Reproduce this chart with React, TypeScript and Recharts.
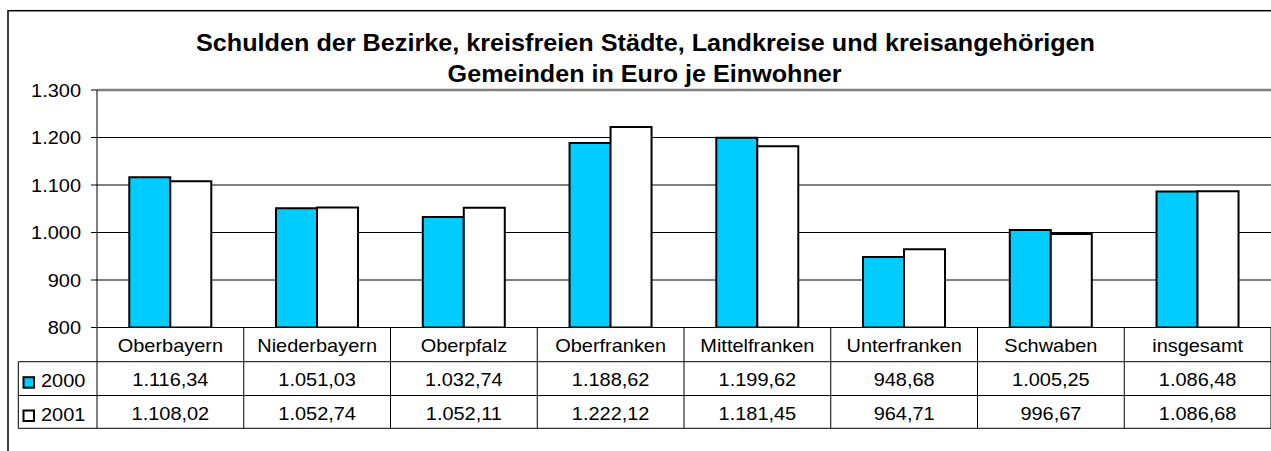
import React from 'react';
import { BarChart, Bar, XAxis, YAxis, CartesianGrid, ReferenceLine } from 'recharts';

const categories = ['Oberbayern', 'Niederbayern', 'Oberpfalz', 'Oberfranken', 'Mittelfranken', 'Unterfranken', 'Schwaben', 'insgesamt'];
const values2000 = [1116.34, 1051.03, 1032.74, 1188.62, 1199.62, 948.68, 1005.25, 1086.48];
const values2001 = [1108.02, 1052.74, 1052.11, 1222.12, 1181.45, 964.71, 996.67, 1086.68];
const seriesNames = ['2000', '2001'];
const yTicks = [800, 900, 1000, 1100, 1200, 1300];
const titleLines = ['Schulden der Bezirke, kreisfreien Städte, Landkreise und kreisangehörigen', 'Gemeinden in Euro je Einwohner'];

const data = categories.map((name, i) => ({ name, v2000: values2000[i], v2001: values2001[i] }));

const W = 1271;
const H = 451;
const PLOT_LEFT = 97;
const PLOT_TOP = 90;
const PLOT_BOTTOM = 327.5;
const PLOT_RIGHT = 1271;
const XAXIS_H = 30;
const ROW1 = 361.7;
const ROW2 = 395.5;
const ROW3 = 428.3;
const TABLE_LEFT = 18.3;
const FONT = '"Liberation Sans", Arial, Helvetica, sans-serif';
const CYAN = '#00CCFF';
const SX = 1.05;
const FS = 19;

function de(v: number, dec: number): string {
  const fixed = v.toFixed(dec);
  const [intPart, frac] = fixed.split('.');
  const intS = intPart.replace(/\B(?=(\d{3})+(?!\d))/g, '.');
  return frac ? intS + ',' + frac : intS;
}

function SText({ x, y, anchor, children }: { x: number; y: number; anchor: string; children: any }) {
  return (
    <text
      transform={`translate(${x},${y}) scale(${SX},1)`}
      textAnchor={anchor}
      fontFamily={FONT}
      fontSize={FS}
      fill="#000"
    >
      {children}
    </text>
  );
}

function YTick(props: any) {
  const { x, y, payload } = props;
  return <SText x={x} y={y + 6.7} anchor="end">{de(payload.value, 0)}</SText>;
}

function XTick(props: any) {
  const { x, payload } = props;
  const i = categories.indexOf(payload.value);
  return (
    <g>
      <SText x={x} y={351.5} anchor="middle">{payload.value}</SText>
      <SText x={x} y={386.2} anchor="middle">{de(values2000[i], 2)}</SText>
      <SText x={x} y={419.5} anchor="middle">{de(values2001[i], 2)}</SText>
    </g>
  );
}

function Overlay() {
  const colW = (PLOT_RIGHT - PLOT_LEFT) / categories.length;
  const cols = [];
  for (let k = 0; k <= categories.length; k++) {
    const x = PLOT_LEFT + k * colW;
    cols.push(<line key={k} x1={x} y1={PLOT_BOTTOM} x2={x} y2={ROW3} stroke="#000" strokeWidth={1} />);
  }
  return (
    <svg width={W} height={H} style={{ position: 'absolute', left: 0, top: 0 }}>
      <rect x={8} y={10.7} width={1400} height={600} fill="none" stroke="#000" strokeWidth={1.5} />
      <text x={645.5} y={51} textAnchor="middle" fontFamily={FONT} fontWeight="bold" fontSize={23} textLength={899} lengthAdjust="spacingAndGlyphs" fill="#000">{titleLines[0]}</text>
      <text x={644.6} y={82.3} textAnchor="middle" fontFamily={FONT} fontWeight="bold" fontSize={23} textLength={394} lengthAdjust="spacingAndGlyphs" fill="#000">{titleLines[1]}</text>
      {cols}
      <line x1={TABLE_LEFT} y1={ROW1} x2={PLOT_RIGHT} y2={ROW1} stroke="#000" strokeWidth={1} />
      <line x1={TABLE_LEFT} y1={ROW2} x2={PLOT_RIGHT} y2={ROW2} stroke="#000" strokeWidth={1} />
      <line x1={TABLE_LEFT} y1={ROW3} x2={PLOT_RIGHT} y2={ROW3} stroke="#333" strokeWidth={1.3} />
      <line x1={TABLE_LEFT} y1={ROW1} x2={TABLE_LEFT} y2={ROW3} stroke="#000" strokeWidth={1} />
      <rect x={23.5} y={377.2} width={10.5} height={10.5} fill={CYAN} stroke="#000" strokeWidth={2} />
      <rect x={23.5} y={410.5} width={10.5} height={10.5} fill="#fff" stroke="#000" strokeWidth={2} />
      <SText x={41} y={387.3} anchor="start">{seriesNames[0]}</SText>
      <SText x={41} y={420.5} anchor="start">{seriesNames[1]}</SText>
    </svg>
  );
}

export default function App() {
  return (
    <div style={{ position: 'fixed', left: 0, top: 0, width: W, height: H, background: '#fff', overflow: 'hidden' }}>
      <Overlay />
      <div style={{ position: 'absolute', left: 0, top: 0 }}>
        <BarChart
          width={W}
          height={H}
          data={data}
          margin={{ top: PLOT_TOP, left: 0, right: W - PLOT_RIGHT, bottom: H - PLOT_BOTTOM - XAXIS_H }}
          barCategoryGap="22%"
          barGap={0}
        >
          <CartesianGrid vertical={false} stroke="#000" strokeWidth={1} />
          <ReferenceLine y={1300} stroke="#808080" strokeWidth={2.5} />
          <XAxis
            dataKey="name"
            height={XAXIS_H}
            axisLine={{ stroke: '#000', strokeWidth: 1 }}
            tickLine={false}
            interval={0}
            tick={(p: any) => <XTick {...p} />}
          />
          <YAxis
            domain={[800, 1300]}
            ticks={yTicks}
            allowDataOverflow
            width={PLOT_LEFT}
            axisLine={{ stroke: '#000', strokeWidth: 1 }}
            tickLine={{ stroke: '#000', strokeWidth: 1 }}
            tickSize={6}
            tickMargin={10}
            interval={0}
            tick={(p: any) => <YTick {...p} />}
          />
          <Bar dataKey="v2000" name={seriesNames[0]} fill={CYAN} stroke="#000" strokeWidth={2} isAnimationActive={false} />
          <Bar dataKey="v2001" name={seriesNames[1]} fill="#FFFFFF" stroke="#000" strokeWidth={2} isAnimationActive={false} />
        </BarChart>
      </div>
    </div>
  );
}
